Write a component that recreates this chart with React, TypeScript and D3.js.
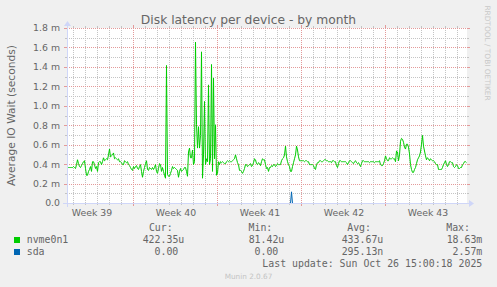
import React from "react";
import * as d3 from "d3";

// ---- data ----
const END = Date.UTC(2025, 9, 26, 20, 0);
const SPAN_HOURS = 800;
const START = END - SPAN_HOURS * 3600 * 1000;
const STEP_HOURS = 2;

// nvme0n1 average IO wait, milliseconds, one sample every 2 hours
const nvmeMs = [
  .37,.37,.37,.37,.37,.37,.38,.37,.36,.40,
  .45,.41,.38,.37,.39,.41,.43,.44,.36,.29,
  .29,.33,.35,.38,.33,.43,.43,.40,.36,.38,
  .33,.42,.43,.43,.40,.43,.47,.44,.45,.46,
  .45,.50,.56,.48,.49,.50,.52,.46,.47,.46,
  .45,.46,.43,.43,.42,.40,.40,.44,.43,.42,
  .43,.40,.39,.37,.35,.34,.38,.36,.38,.39,
  .36,.35,.38,.40,.33,.27,.33,.37,.41,.44,
  .35,.34,.37,.36,.35,.37,.35,.37,.40,.33,
  .31,.36,.41,.40,.33,.37,.33,.29,.26,1.42,
  .30,
  .28,.28,.31,.34,.38,.36,.37,.36,.35,.34,
  .27,.33,.36,.33,.34,.35,.37,.37,.33,.28,
  .53,.57,.47,.47,.55,.40,.43,1.66,.81,.57,
  .79,.57,.70,1.56,.26,.50,1.05,.40,.46,.43,
  1.22,.40,.46,1.43,.33,1.29,.46,.81,.29,.31,
  .43,.40,.43,.42,.43,.42,.41,.41,.43,.44,
  .43,.44,.43,.43,.44,.45,.46,.50,.46,.42,
  .40,.34,.34,.33,.31,.33,.36,.40,.40,.38,
  .39,.40,.41,.38,.39,.42,.46,.45,.41,.40,
  .42,.41,.39,.43,.46,.45,.45,.40,.36,.37,
  .33,.37,.37,.39,.38,.40,.40,.38,.39,.41,
  .40,.40,.40,.44,.46,.47,.50,.59,.48,.43,
  .40,.38,.33,.33,.38,.42,.46,.50,.59,.55,
  .48,.44,.44,.44,.44,.44,.43,.44,.44,.43,
  .43,.40,.40,.40,.40,.39,.36,.35,.40,.42,
  .42,.44,.44,.43,.43,.44,.45,.45,.44,.44,
  .43,.43,.43,.42,.44,.44,.43,.43,.39,.37,
  .41,.44,.44,.43,.43,.43,.43,.43,.42,.40,
  .42,.44,.44,.43,.42,.41,.43,.44,.42,.41,
  .42,.40,.38,.41,.44,.44,.43,.43,.43,.43,
  .43,.42,.43,.43,.43,.43,.42,.43,.43,.43,
  .43,.44,.40,.39,.39,.41,.44,.49,.46,.44,
  .44,.47,.46,.46,.47,.46,.46,.43,.54,.53,
  .44,.50,.64,.67,.66,.63,.58,.56,.61,.61,
  .58,.51,.40,.35,.32,.32,.35,.37,.41,.45,
  .47,.49,.53,.61,.70,.59,.54,.49,.45,.47,
  .46,.44,.46,.45,.44,.44,.43,.41,.40,.40,
  .35,.35,.35,.35,.37,.40,.42,.44,.40,.38,
  .40,.43,.43,.42,.42,.38,.37,.38,.40,.39,
  .36,.36,.37,.37,.40,.41,.43,.43,.42,
];

// sda: line vertices (hours from start, ms)
const sdaHours = [0, 446, 448, 450, 798];
const sdaMs = [0, 0, 0.12, 0, 0];

const yTickValues = [0, 0.2, 0.4, 0.6, 0.8, 1.0, 1.2, 1.4, 1.6, 1.8];
const yTickLabels = ["0.0", "0.2 m", "0.4 m", "0.6 m", "0.8 m", "1.0 m", "1.2 m", "1.4 m", "1.6 m", "1.8 m"];
const yMinorValues = [0.1, 0.3, 0.5, 0.7, 0.9, 1.1, 1.3, 1.5, 1.7];

const seriesNames = ["nvme0n1", "sda"];
const seriesColors = ["#00CC00", "#0066B3"];
const curVals = ["422.35u", "0.00"];
const minVals = ["81.42u", "0.00"];
const avgVals = ["433.67u", "295.13n"];
const maxVals = ["18.63m", "2.57m"];

const TITLE = "Disk latency per device - by month";
const Y_LABEL = "Average IO Wait (seconds)";
const LAST_UPDATE = "Last update: Sun Oct 26 15:00:18 2025";
const WATERMARK = "Munin 2.0.67";
const SIDE = "RRDTOOL / TOBI OETIKER";

// ---- layout ----
const W = 497, H = 287;
const X0 = 67, X1 = 467, Y0 = 203, Y1 = 28;
const SANS = "'DejaVu Sans', sans-serif";
const MONO = "'DejaVu Sans Mono', monospace";
const FONT_COL = "#666666";
const AXIS_COL = "#CFD6F8";
const GRID_COL = "#c4c4c4";
const MGRID_COL = "#e39a9a";

export default function App() {
  const x = d3.scaleUtc().domain([new Date(START), new Date(END)]).range([X0, X1]);
  const y = d3.scaleLinear().domain([0, 1.8]).range([Y0, Y1]);
  const hy = (v: number) => Math.round(y(v)) + 0.5;
  const hx = (t: Date) => Math.round(x(t)) + 0.5;

  const nvmePts = nvmeMs.map((v, i) => [new Date(START + i * STEP_HOURS * 3600e3), v] as [Date, number]);
  const sdaPts = sdaHours.map((h, i) => [new Date(START + h * 3600e3), sdaMs[i]] as [Date, number]);
  const line = d3.line<[Date, number]>().x(d => x(d[0]) + 0.5).y(d => y(d[1]) + 0.5);

  const days = d3.utcDay.range(new Date(START), new Date(END)).filter(d => d.getUTCDay() !== 1);
  const mondays = d3.utcMonday.range(new Date(START), new Date(END));
  const weekStarts = d3.utcMonday.range(d3.utcMonday.floor(new Date(START)), new Date(END));
  const fmtWeek = d3.utcFormat("Week %V");
  const weekLabels = weekStarts
    .map(m => ({ t: new Date(m.getTime() + 3.5 * 864e5), label: fmtWeek(m) }))
    .filter(d => d.t.getTime() >= START && d.t.getTime() <= END);

  const legendRowsY = [243, 255];
  const colEnds = { cur: 184.3, min: 284.3, avg: 383.3, max: 482.3 };
  const unitless = (s: string) => /\d$/.test(s);

  return (
    <svg width={W} height={H} style={{ position: "absolute", left: 0, top: 0, display: "block" }}>
      <rect x={0} y={0} width={W} height={H} fill="#F0F0F0" />
      <rect x={X0} y={Y1} width={X1 - X0} height={Y0 - Y1} fill="#FFFFFF" />

      {/* minor vertical grid */}
      {days.map((d, i) => (
        <g key={"d" + i}>
          <line x1={hx(d)} x2={hx(d)} y1={Y1} y2={Y0} stroke={GRID_COL} strokeDasharray="1,1" />
          <line x1={hx(d)} x2={hx(d)} y1={Y0} y2={Y0 + 2} stroke={GRID_COL} />
          <line x1={hx(d)} x2={hx(d)} y1={Y1 - 2} y2={Y1} stroke={GRID_COL} />
        </g>
      ))}
      {/* minor horizontal grid */}
      {yMinorValues.map((v, i) => (
        <g key={"m" + i}>
          <line x1={X0} x2={X1} y1={hy(v)} y2={hy(v)} stroke={GRID_COL} strokeDasharray="1,1" />
          <line x1={X0 - 2} x2={X0} y1={hy(v)} y2={hy(v)} stroke={GRID_COL} />
          <line x1={X1} x2={X1 + 2} y1={hy(v)} y2={hy(v)} stroke={GRID_COL} />
        </g>
      ))}
      {/* major vertical grid */}
      {mondays.map((d, i) => (
        <g key={"w" + i}>
          <line x1={hx(d)} x2={hx(d)} y1={Y1} y2={Y0} stroke={MGRID_COL} strokeDasharray="1,1" />
          <line x1={hx(d)} x2={hx(d)} y1={Y0} y2={Y0 + 3} stroke={MGRID_COL} />
          <line x1={hx(d)} x2={hx(d)} y1={Y1 - 3} y2={Y1} stroke={MGRID_COL} />
        </g>
      ))}
      {/* major horizontal grid */}
      {yTickValues.slice(1).map((v, i) => (
        <g key={"M" + i}>
          <line x1={X0} x2={X1} y1={hy(v)} y2={hy(v)} stroke={MGRID_COL} strokeDasharray="1,1" />
          <line x1={X0 - 3} x2={X0} y1={hy(v)} y2={hy(v)} stroke={MGRID_COL} />
          <line x1={X1} x2={X1 + 3} y1={hy(v)} y2={hy(v)} stroke={MGRID_COL} />
        </g>
      ))}

      {/* series */}
      <path d={line(sdaPts) || ""} fill="none" stroke={seriesColors[1]} strokeWidth={1} />
      <path d={line(nvmePts) || ""} fill="none" stroke={seriesColors[0]} strokeWidth={1} />

      {/* axes */}
      <line x1={X0 - 4} x2={X1 + 4} y1={Y0 + 0.5} y2={Y0 + 0.5} stroke={AXIS_COL} />
      <line x1={X0 + 0.5} x2={X0 + 0.5} y1={Y0 + 4} y2={Y1 - 4} stroke={AXIS_COL} />
      <polygon points={`${X1 + 2},${Y0 - 3} ${X1 + 2},${Y0 + 4} ${X1 + 7},${Y0 + 0.5}`} fill={AXIS_COL} />
      <polygon points={`${X0 - 3},${Y1 - 2} ${X0 + 4},${Y1 - 2} ${X0 + 0.5},${Y1 - 7}`} fill={AXIS_COL} />

      {/* title */}
      <text x={W / 2} y={24} textAnchor="middle" fontFamily={SANS} fontSize={12.3} fill={FONT_COL}>{TITLE}</text>

      {/* y tick labels */}
      {yTickValues.map((v, i) => (
        <text key={"yl" + i} x={60} y={y(v) + 3.4} textAnchor="end" fontFamily={SANS} fontSize={9.33} fill={FONT_COL}>
          {yTickLabels[i]}
        </text>
      ))}
      {/* x labels */}
      {weekLabels.map((w, i) => (
        <text key={"xl" + i} x={x(w.t) + 1} y={216} textAnchor="middle" fontFamily={SANS} fontSize={9.33} fill={FONT_COL}>
          {w.label}
        </text>
      ))}
      {/* y axis label */}
      <text transform={`translate(15,${(Y0 + Y1) / 2}) rotate(-90)`} textAnchor="middle" fontFamily={SANS} fontSize={10.67} fill={FONT_COL}>
        {Y_LABEL}
      </text>

      {/* side text */}
      <text transform={`translate(485,53) rotate(90)`} textAnchor="middle" fontFamily={SANS} fontSize={7.4} fill="#c8c8c8">
        {SIDE}
      </text>

      {/* legend */}
      <g fontFamily={MONO} fontSize={9.9} fill={FONT_COL}>
        <text x={172.7} y={230.5} textAnchor="end">Cur:</text>
        <text x={272.3} y={230.5} textAnchor="end">Min:</text>
        <text x={371} y={230.5} textAnchor="end">Avg:</text>
        <text x={470} y={230.5} textAnchor="end">Max:</text>
        {seriesNames.map((n, i) => {
          const yy = legendRowsY[i];
          const off = (s: string) => (unitless(s) ? 6 : 0);
          return (
            <g key={"lg" + i}>
              <rect x={14} y={yy - 6} width={6} height={6} fill={seriesColors[i]} />
              <text x={26.7} y={yy}>{n}</text>
              <text x={colEnds.cur - off(curVals[i])} y={yy} textAnchor="end">{curVals[i]}</text>
              <text x={colEnds.min - off(minVals[i])} y={yy} textAnchor="end">{minVals[i]}</text>
              <text x={colEnds.avg - off(avgVals[i])} y={yy} textAnchor="end">{avgVals[i]}</text>
              <text x={colEnds.max - off(maxVals[i])} y={yy} textAnchor="end">{maxVals[i]}</text>
            </g>
          );
        })}
        <text x={482.3} y={266.5} textAnchor="end">{LAST_UPDATE}</text>
      </g>
      <text x={W / 2} y={279} textAnchor="middle" fontFamily={SANS} fontSize={7.3} fill="#c4c4c4">{WATERMARK}</text>
    </svg>
  );
}
